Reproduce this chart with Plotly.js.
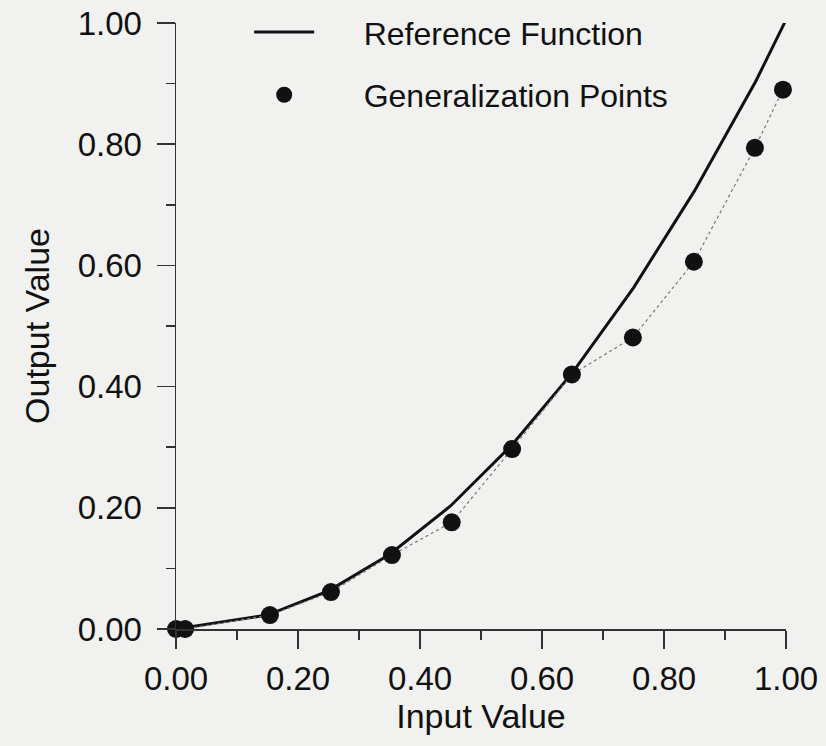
<!DOCTYPE html>
<html>
<head>
<meta charset="utf-8">
<script src="https://cdn.plot.ly/plotly-3.0.1.min.js"></script>
<style>html,body{margin:0;padding:0;background:#f1f1ef;}</style>
</head>
<body>
<div id="chart" style="width:826px;height:746px;"></div>
<script>
// Reference function
const refX = [0.00, 0.15, 0.25, 0.35, 0.45, 0.55, 0.65, 0.75, 0.85, 0.95, 1.00];
const refY = [0.000, 0.023, 0.063, 0.123, 0.203, 0.303, 0.423, 0.563, 0.723, 0.903, 1.005];
// Generalization points
const genX = [0.00, 0.015, 0.154, 0.254, 0.354, 0.452, 0.551, 0.649, 0.749, 0.849, 0.949, 0.995];
const genY = [0.000, 0.000, 0.023, 0.061, 0.122, 0.176, 0.297, 0.420, 0.481, 0.606, 0.794, 0.890];
const tickVals = [0, 0.2, 0.4, 0.6, 0.8, 1.0];
const tickText = ["0.00", "0.20", "0.40", "0.60", "0.80", "1.00"];
const seriesNames = ["Reference Function", "Generalization Points"];

const ink = '#111111';
const font = 'Liberation Sans, Arial, sans-serif';
const pad = '\u00A0\u00A0\u00A0\u00A0\u00A0';

const traces = [
  {
    x: refX, y: refY, type: 'scatter', mode: 'lines',
    name: pad + seriesNames[0], legendgroup: 'a',
    line: {color: ink, width: 3},
    cliponaxis: false
  },
  {
    x: genX, y: genY, type: 'scatter', mode: 'lines',
    showlegend: false, hoverinfo: 'skip',
    line: {color: '#777777', width: 1.2, dash: 'dot'},
    cliponaxis: false
  },
  {
    x: genX, y: genY, type: 'scatter', mode: 'markers',
    name: pad + seriesNames[1], legendgroup: 'b',
    marker: {color: ink, size: 18},
    cliponaxis: false
  }
];

const axisCommon = {
  range: [0, 1],
  showgrid: false,
  zeroline: false,
  showline: true,
  linecolor: '#333333',
  linewidth: 1.5,
  ticks: 'outside',
  ticklen: 18,
  tickwidth: 1.5,
  tickcolor: '#333333',
  tickvals: tickVals,
  ticktext: tickText,
  tickfont: {family: font, size: 33, color: ink},
  minor: {dtick: 0.1, tick0: 0, ticks: 'outside', ticklen: 9, tickwidth: 1.5, tickcolor: '#333333', showgrid: false},
  fixedrange: true
};

const layout = {
  width: 826, height: 746,
  margin: {l: 176, r: 40, t: 23, b: 117, autoexpand: false},
  paper_bgcolor: '#f1f1ef',
  plot_bgcolor: '#f1f1ef',
  font: {family: font, color: ink},
  xaxis: Object.assign({}, axisCommon, {
    title: {text: 'Input Value', font: {family: font, size: 34, color: ink}, standoff: 2},
    ticklabelstandoff: 2
  }),
  yaxis: Object.assign({}, axisCommon, {
    title: {text: 'Output Value', font: {family: font, size: 34, color: ink}, standoff: 18},
    ticklabelstandoff: 8
  }),
  showlegend: true,
  legend: {
    x: 0.12, y: 1.03, xanchor: 'left', yanchor: 'top',
    bgcolor: 'rgba(0,0,0,0)',
    font: {family: font, size: 32, color: ink},
    traceorder: 'grouped',
    tracegroupgap: 18,
    itemwidth: 60
  }
};

Plotly.newPlot('chart', traces, layout, {displayModeBar: false, staticPlot: true});
</script>
</body>
</html>
